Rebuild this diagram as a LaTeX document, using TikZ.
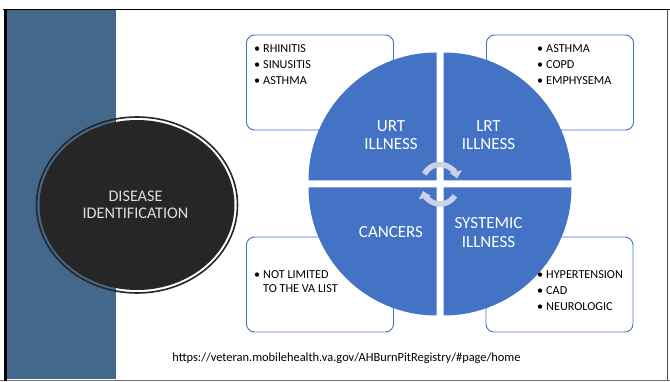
\documentclass[tikz,border=0pt]{standalone}
\usepackage{fontspec}
\setmainfont{Carlito}
\usetikzlibrary{arrows.meta,calc}
\definecolor{band}{RGB}{68,104,139}
\definecolor{office}{RGB}{68,114,196}
\definecolor{darkfill}{RGB}{38,38,38}
\definecolor{arrowcol}{RGB}{202,210,234}
\definecolor{lighttext}{RGB}{222,222,222}
\tikzset{
  bulletbox/.style={draw=office, line width=0.9pt, fill=white, rounded corners=8pt, minimum width=147pt, minimum height=95pt, inner sep=0pt},
  bultext/.style={anchor=base west, font=\fontsize{12.2}{14}\selectfont, inner sep=0pt, text=black},
  quadlab/.style={anchor=base, font=\fontsize{17}{18}\selectfont, inner sep=0pt, text=white},
  dislab/.style={anchor=base, font=\fontsize{16.2}{17}\selectfont, inner sep=0pt, text=lighttext},
  cyclearrow/.style={draw=arrowcol, line width=5.5pt, -{Triangle[width=12.5pt,length=7pt]}},
}
\newcommand{\bulitem}[1]{\makebox[9pt][l]{\textbullet}#1}
\begin{document}
\begin{tikzpicture}[x=1pt,y=-1pt]
\useasboundingbox (0,0) rectangle (670,382);
\fill[white] (0,0) rectangle (670,382);
% side band
\fill[band] (7,10.5) rectangle (115.5,379);
% frame
\draw[black, line width=1.4pt] (3,9.5) -- (670,9.5);
\draw[black!55, line width=1.4pt] (0,380.3) -- (670,380.3);
\draw[black, line width=2.6pt] (5.3,9) -- (5.3,381);
\draw[black!70, line width=1pt] (667.5,9) -- (667.5,380);
% disease circle
\draw[darkfill, line width=1.6pt] (137,205) ellipse [x radius=100.5, y radius=88];
\fill[darkfill] (137,205) ellipse [x radius=97.5, y radius=85];
\node[dislab] (dis1) at (135.5,201.9) {DISEASE};
\node[dislab] (dis2) at (135.5,218.5) {IDENTIFICATION};
% bullet boxes
\node[bulletbox] (boxtl) at (320,82.5) {};
\node[bulletbox] (boxtr) at (560,82.5) {};
\node[bulletbox] (boxbl) at (320,284.5) {};
\node[bulletbox] (boxbr) at (559.5,284.5) {};
% quadrants
\fill[office] (436.5,180.5) -- +(0,-128) arc[start angle=-90, end angle=-180, radius=128] -- cycle;
\fill[office] (443.5,180.5) -- +(0,-128) arc[start angle=-90, end angle=0, radius=128] -- cycle;
\fill[office] (436.5,187.5) -- +(-128,0) arc[start angle=180, end angle=90, radius=128] -- cycle;
\fill[office] (443.5,187.5) -- +(128,0) arc[start angle=0, end angle=90, radius=128] -- cycle;
% quadrant labels
\node[quadlab] (urt1) at (391,131.5) {URT};
\node[quadlab] (urt2) at (391,149.5) {ILLNESS};
\node[quadlab] (lrt1) at (488.5,131.5) {LRT};
\node[quadlab] (lrt2) at (488.5,149.5) {ILLNESS};
\node[quadlab] (can1) at (391,237.5) {CANCERS};
\node[quadlab] (sys1) at (488.5,228.5) {SYSTEMIC};
\node[quadlab] (sys2) at (488.5,247.5) {ILLNESS};
% cycle arrows
\coordinate (cupper) at (440,182);
\coordinate (clower) at (440,186.5);
\draw[cyclearrow] ($(cupper)+(-153:17.5)$) arc[start angle=-153, end angle=-12, radius=17.5];
\draw[cyclearrow] ($(clower)+(32:17.5)$) arc[start angle=32, end angle=165, radius=17.5];
% bullet texts
\node[bultext] (tl1) at (254,52.6) {\bulitem{RHINITIS}};
\node[bultext] (tl2) at (254,68.6) {\bulitem{SINUSITIS}};
\node[bultext] (tl3) at (254,84.6) {\bulitem{ASTHMA}};
\node[bultext] (tr1) at (537,52.6) {\bulitem{ASTHMA}};
\node[bultext] (tr2) at (537,68.6) {\bulitem{COPD}};
\node[bultext] (tr3) at (537,84.6) {\bulitem{EMPHYSEMA}};
\node[bultext] (bl1) at (254,278.6) {\bulitem{NOT LIMITED}};
\node[bultext] (bl2) at (263,292.6) {TO THE VA LIST};
\node[bultext] (br1) at (537,278.6) {\bulitem{HYPERTENSION}};
\node[bultext] (br2) at (537,294.6) {\bulitem{CAD}};
\node[bultext] (br3) at (537,310.6) {\bulitem{NEUROLOGIC}};
% url
\node[anchor=base, font=\fontsize{12.4}{14}\selectfont, inner sep=0pt, text=black] (url) at (346.5,362) {https://veteran.mobilehealth.va.gov/AHBurnPitRegistry/\#page/home};
\end{tikzpicture}
\end{document}
